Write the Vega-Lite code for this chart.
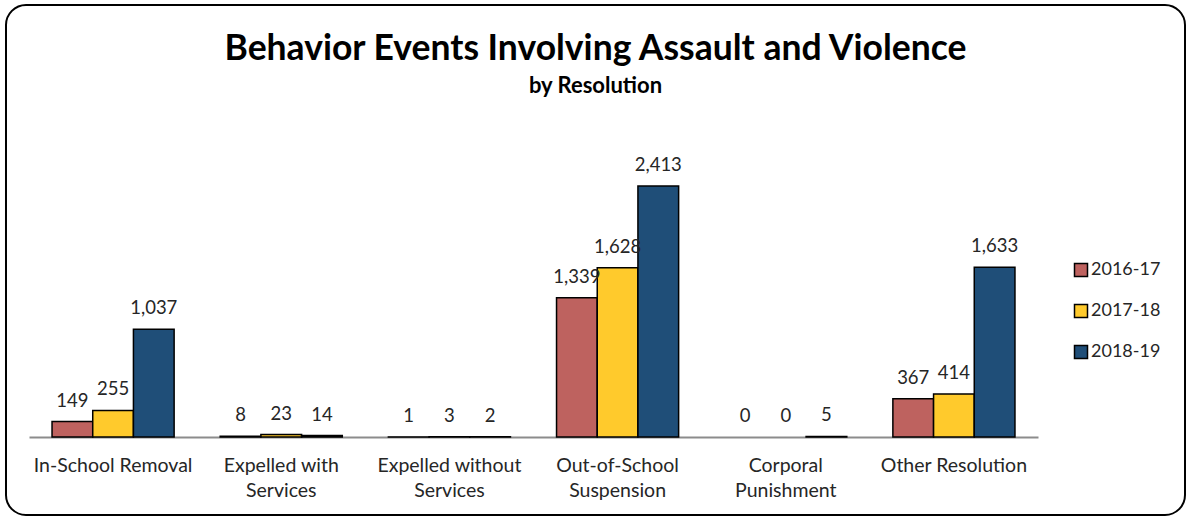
{
  "$schema": "https://vega.github.io/schema/vega-lite/v6.json",
  "width": 1179,
  "height": 510,
  "autosize": {"type": "none"},
  "padding": {"left": 6, "top": 5, "right": 1, "bottom": 2},
  "background": "white",
  "title": {
    "text": "Behavior Events Involving Assault and Violence",
    "subtitle": "by Resolution",
    "anchor": "middle",
    "frame": "group",
    "offset": -92,
    "font": "Lato",
    "fontSize": 35.5,
    "fontWeight": "bold",
    "color": "black",
    "subtitleFont": "Lato",
    "subtitleFontSize": 22,
    "subtitleFontWeight": "bold",
    "subtitleColor": "black",
    "subtitlePadding": 9
  },
  "data": {
    "values": [
      {"category": "In-School Removal", "year": "2016-17", "value": 149},
      {"category": "In-School Removal", "year": "2017-18", "value": 255},
      {"category": "In-School Removal", "year": "2018-19", "value": 1037},
      {"category": "Expelled with Services", "year": "2016-17", "value": 8},
      {"category": "Expelled with Services", "year": "2017-18", "value": 23},
      {"category": "Expelled with Services", "year": "2018-19", "value": 14},
      {"category": "Expelled without Services", "year": "2016-17", "value": 1},
      {"category": "Expelled without Services", "year": "2017-18", "value": 3},
      {"category": "Expelled without Services", "year": "2018-19", "value": 2},
      {"category": "Out-of-School Suspension", "year": "2016-17", "value": 1339},
      {"category": "Out-of-School Suspension", "year": "2017-18", "value": 1628},
      {"category": "Out-of-School Suspension", "year": "2018-19", "value": 2413},
      {"category": "Corporal Punishment", "year": "2016-17", "value": 0},
      {"category": "Corporal Punishment", "year": "2017-18", "value": 0},
      {"category": "Corporal Punishment", "year": "2018-19", "value": 5},
      {"category": "Other Resolution", "year": "2016-17", "value": 367},
      {"category": "Other Resolution", "year": "2017-18", "value": 414},
      {"category": "Other Resolution", "year": "2018-19", "value": 1633}
    ]
  },
  "encoding": {
    "x": {
      "field": "category",
      "type": "nominal",
      "sort": null,
      "title": null,
      "scale": {"range": [23, 1032], "paddingInner": 0.274, "paddingOuter": 0.137},
      "axis": {
        "orient": "bottom",
        "offset": -78,
        "ticks": false,
        "domainColor": "#8c8c8c",
        "domainWidth": 2,
        "labelFont": "Lato",
        "labelFontSize": 19.5,
        "labelColor": "#262626",
        "labelPadding": 19,
        "labelLineHeight": 25,
        "labelAngle": 0,
        "labelBaseline": "top",
        "zindex": 0,
        "labelExpr": "length(datum.label) > 18 ? [join(slice(split(datum.label, ' '), 0, -1), ' '), peek(split(datum.label, ' '))] : datum.label"
      }
    },
    "xOffset": {"field": "year", "type": "nominal", "scale": {"paddingInner": 0, "paddingOuter": 0}},
    "y": {
      "field": "value",
      "type": "quantitative",
      "scale": {"domain": [-750, 4154], "nice": false, "zero": false},
      "axis": null
    }
  },
  "layer": [
    {
      "transform": [{"filter": "datum.value > 0"}],
      "mark": {"type": "bar", "stroke": "black", "strokeWidth": 1.5},
      "encoding": {
        "y2": {"datum": 0},
        "color": {
          "field": "year",
          "type": "nominal",
          "scale": {"domain": ["2016-17", "2017-18", "2018-19"], "range": ["#BE625F", "#FFCA2C", "#1F4E78"]},
          "legend": {
            "title": null,
            "orient": "none",
            "legendX": 1066,
            "legendY": 256,
            "symbolType": "square",
            "symbolSize": 169,
            "symbolStrokeColor": "black",
            "symbolStrokeWidth": 1.5,
            "symbolOpacity": 1,
            "labelFont": "Lato",
            "labelFontSize": 18,
            "labelColor": "#262626",
            "labelOffset": 1,
            "rowPadding": 21
          }
        }
      }
    },
    {
      "mark": {"type": "text", "font": "Lato", "fontSize": 18.5, "color": "#262626", "baseline": "alphabetic", "dy": -15},
      "encoding": {
        "text": {"field": "value", "type": "quantitative", "format": ",d"}
      }
    }
  ],
  "config": {
    "view": {"stroke": "black", "strokeWidth": 2, "cornerRadius": 20}
  }
}
